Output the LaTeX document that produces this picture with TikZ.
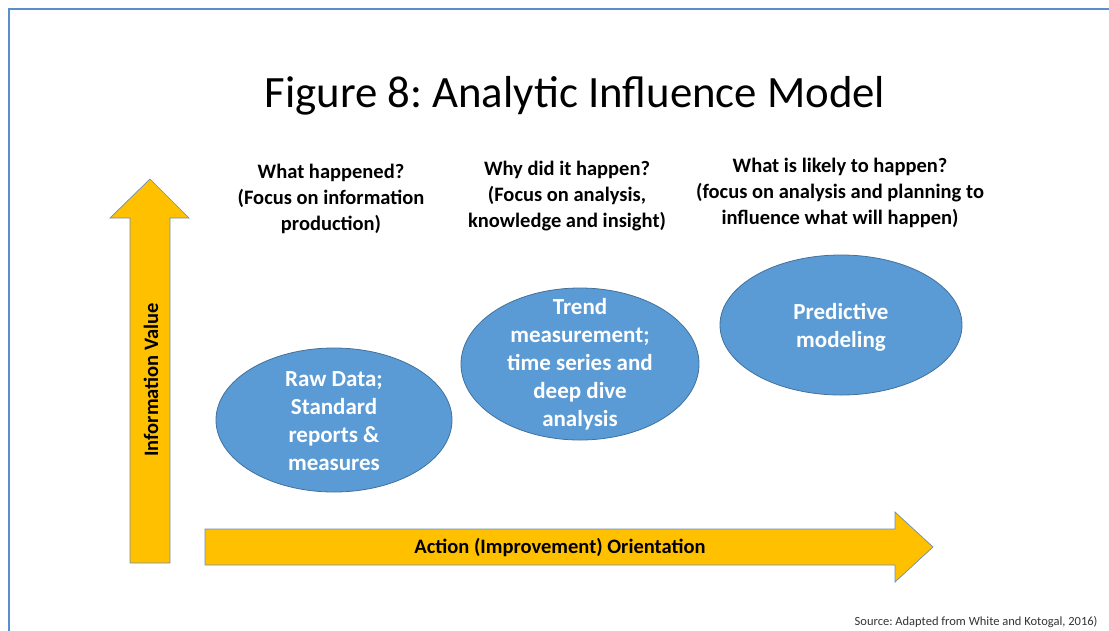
\documentclass[tikz,border=0pt]{standalone}
\usepackage{fontspec}
\setmainfont{Carlito}
\frenchspacing
\definecolor{arrowyellow}{HTML}{FFC000}
\definecolor{arrowline}{HTML}{6C8EB5}
\definecolor{ovalblue}{HTML}{5B9BD5}
\definecolor{ovalline}{HTML}{41719C}
\definecolor{frameblue}{HTML}{5B8FCC}
\begin{document}
\begin{tikzpicture}[x=1pt,y=-1pt,
    oval/.style={fill=ovalblue,draw=ovalline,line width=0.8pt},
    ovaltext/.style={text=white,font=\fontsize{23}{28}\selectfont\bfseries,align=center},
    question/.style={font=\fontsize{20.5}{26}\selectfont\bfseries,align=center},
    axislabel/.style={font=\fontsize{20.5}{24}\selectfont\bfseries},
    bigarrow/.style={fill=arrowyellow,draw=arrowline,line width=0.7pt,line join=miter}]
    \useasboundingbox (0,0) rectangle (1109,630);
    \clip (0,0) rectangle (1109,630);
            \draw[frameblue,line width=2pt] (9,9) rectangle (1130,650);

            \node (title) at (575,96) {\fontsize{44.8}{52}\selectfont Figure 8: Analytic Influence Model};

            %the two arrows
            \draw[bigarrow] (130,563) -- (130,218) -- (110,218) -- (150,179) -- (189,218) -- (170,218) -- (170,563) -- cycle;
            \draw[bigarrow] (205,529) -- (895,529) -- (895,512) -- (933,547) -- (895,582) -- (895,565) -- (205,565) -- cycle;
            \node[rotate=90,axislabel] (yaxis) at (151,380) {Information Value};
            \node[axislabel] (xaxis) at (560,547) {Action (Improvement) Orientation};

            \node[question] (q1) at (331,199) {What happened?\\(Focus on information\\production)};
            \node[question] (q2) at (567,196) {Why did it happen?\\(Focus on analysis,\\knowledge and insight)};
            \node[question] (q3) at (840,193) {What is likely to happen?\\(focus on analysis and planning to\\influence what will happen)};

            \draw[oval] (334,420) ellipse (118 and 72);
            \draw[oval] (580,364) ellipse (119 and 76);
            \draw[oval] (841,325) ellipse (121 and 70);
            \node[ovaltext] (raw) at (334,421) {Raw Data;\\Standard\\reports \&\\measures};
            \node[ovaltext] (trend) at (580,364) {Trend\\measurement;\\time series and\\deep dive\\analysis};
            \node[ovaltext] (pred) at (841,327) {Predictive\\modeling};

            \node[anchor=east,font=\fontsize{12.5}{15}\selectfont,text=black!80] (source) at (1101,622) {Source: Adapted from White and Kotogal, 2016)};

        \end{tikzpicture}
\end{document}
